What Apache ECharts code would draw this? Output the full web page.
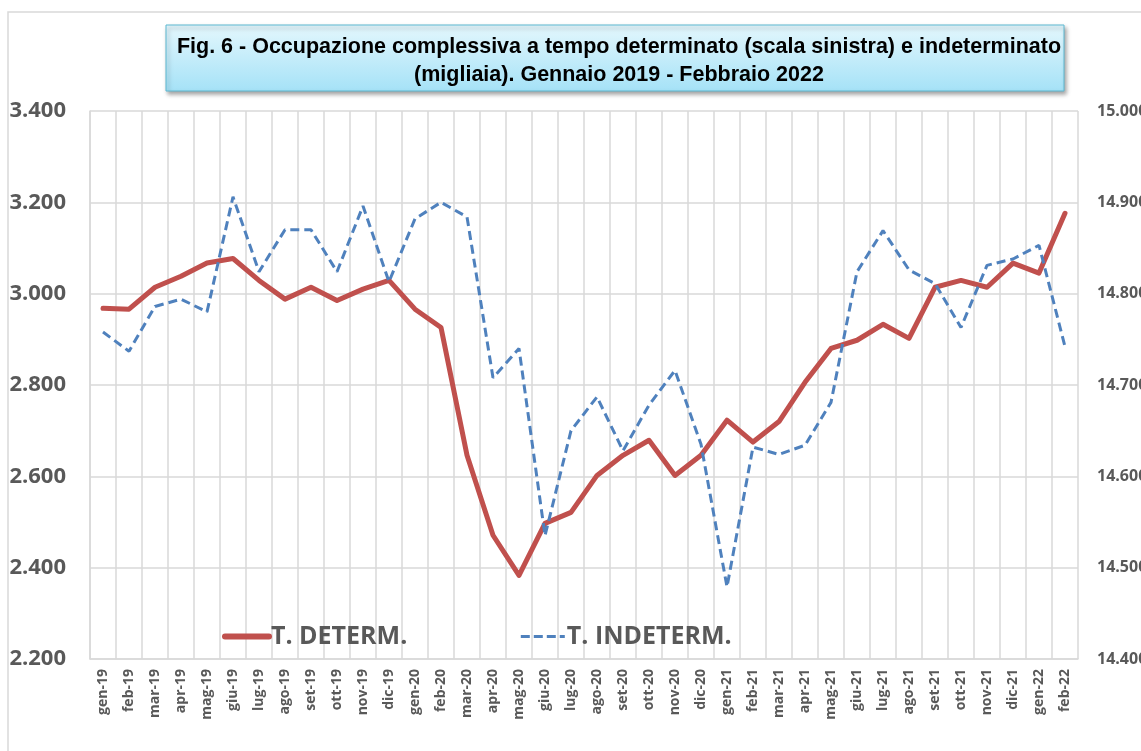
<!DOCTYPE html>
<html>
<head>
<meta charset="utf-8">
<script src="https://cdn.jsdelivr.net/npm/echarts@6/dist/echarts.min.js"></script>
<style>
  html, body { margin: 0; padding: 0; background: #fff; }
  #chart { width: 1141px; height: 751px; }
</style>
</head>
<body>
<div id="chart"></div>
<script>
// mesi gen-19 .. feb-22
const months = [
  'gen-19', 'feb-19', 'mar-19', 'apr-19', 'mag-19', 'giu-19', 'lug-19', 'ago-19', 'set-19', 'ott-19', 'nov-19', 'dic-19',
  'gen-20', 'feb-20', 'mar-20', 'apr-20', 'mag-20', 'giu-20', 'lug-20', 'ago-20', 'set-20', 'ott-20', 'nov-20', 'dic-20',
  'gen-21', 'feb-21', 'mar-21', 'apr-21', 'mag-21', 'giu-21', 'lug-21', 'ago-21', 'set-21', 'ott-21', 'nov-21', 'dic-21',
  'gen-22', 'feb-22'
]
// tempo determinato (scala sinistra, migliaia)
const determ = [
  2968, 2966, 3014, 3038, 3067, 3077, 3029, 2988, 3014, 2985, 3010, 3029,
  2966, 2926, 2646, 2471, 2383, 2497, 2521, 2602, 2646, 2679, 2602, 2646,
  2723, 2675, 2720, 2806, 2880, 2898, 2933, 2902, 3014, 3029, 3014, 3067,
  3045, 3176
]
// tempo indeterminato (scala destra, migliaia)
const indeterm = [
  14758, 14737, 14786, 14794, 14780, 14906, 14824, 14870, 14870, 14824, 14896, 14813,
  14882, 14900, 14884, 14708, 14740, 14535, 14650, 14687, 14628, 14678, 14716, 14635,
  14479, 14632, 14624, 14634, 14681, 14824, 14869, 14826, 14811, 14763, 14831, 14838,
  14853, 14742
]
const seriesNames = ['T. DETERM.', 'T. INDETERM.']

// separatore migliaia "."
const fmt = v => String(v).replace(/\B(?=(\d{3})+(?!\d))/g, '.')

const chart = echarts.init(document.getElementById('chart'))

const option = {
  backgroundColor: '#fff',
  animation: false,
  graphic: [
    // cornice esterna
    {
      type: 'rect',
      shape: { x: 8, y: 12, width: 1140, height: 745 },
      style: { fill: 'none', stroke: '#d9d9d9', lineWidth: 1.5 },
      z: 0
    },
    // box del titolo
    {
      type: 'rect',
      shape: { x: 166, y: 25, width: 898, height: 66 },
      style: {
        fill: new echarts.graphic.LinearGradient(0, 0, 0, 1, [
          { offset: 0, color: '#e4f7fd' },
          { offset: 1, color: '#a5e2f7' }
        ]),
        stroke: '#5cb8d1',
        lineWidth: 1,
        shadowBlur: 4,
        shadowOffsetX: 2,
        shadowOffsetY: 3,
        shadowColor: 'rgba(0,0,0,0.35)'
      },
      z: 1
    }
  ],
  title: {
    text: 'Fig. 6 - Occupazione complessiva a tempo determinato (scala sinistra) e indeterminato\n(migliaia). Gennaio 2019 - Febbraio 2022',
    left: 614,
    top: 28,
    textAlign: 'center',
    z: 5,
    textStyle: {
      fontFamily: '"Liberation Sans", Arial, sans-serif',
      fontWeight: 'bold',
      fontSize: 21.5,
      lineHeight: 28,
      color: '#000'
    }
  },
  legend: {
    data: [
      { name: seriesNames[0], lineStyle: { width: 6, cap: 'round' } },
      { name: seriesNames[1], lineStyle: { width: 3, type: [9, 4] } }
    ],
    left: 222,
    top: 624,
    padding: 0,
    itemWidth: 44,
    itemHeight: 14,
    itemGap: 112,
    itemStyle: { opacity: 0 },
    textStyle: {
      fontFamily: '"Open Sans", sans-serif',
      fontWeight: 'bold',
      fontSize: 25,
      color: '#595959',
      padding: [0, 0, 0, -3]
    }
  },
  grid: {
    left: 90,
    right: 63,
    top: 111,
    bottom: 92,
    outerBoundsMode: 'none'
  },
  xAxis: {
    type: 'category',
    data: months,
    boundaryGap: true,
    axisLine: { show: true, lineStyle: { color: '#d9d9d9', width: 1.5 } },
    axisTick: { show: false },
    splitLine: { show: true, lineStyle: { color: '#d9d9d9', width: 1.5 } },
    axisLabel: {
      interval: 0,
      rotate: 90,
      margin: 10,
      fontFamily: '"Open Sans", sans-serif',
      fontWeight: 'bold',
      fontSize: 14,
      color: '#595959'
    }
  },
  yAxis: [
    {
      type: 'value',
      min: 2200,
      max: 3400,
      interval: 200,
      axisLine: { show: true, lineStyle: { color: '#d9d9d9', width: 1.5 } },
      axisTick: { show: false },
      splitLine: { lineStyle: { color: '#d9d9d9', width: 1.5 } },
      axisLabel: {
        margin: 24,
        formatter: fmt,
        fontFamily: '"Open Sans", sans-serif',
        fontWeight: 'bold',
        fontSize: 22,
        color: '#595959'
      }
    },
    {
      type: 'value',
      min: 14400,
      max: 15000,
      interval: 100,
      position: 'right',
      axisLine: { show: false },
      axisTick: { show: false },
      splitLine: { show: false },
      axisLabel: {
        margin: 19,
        formatter: fmt,
        fontFamily: '"Open Sans", sans-serif',
        fontWeight: 'bold',
        fontSize: 16,
        color: '#595959'
      }
    }
  ],
  series: [
    {
      name: seriesNames[0],
      type: 'line',
      yAxisIndex: 0,
      data: determ,
      symbol: 'none',
      z: 3,
      lineStyle: { color: '#c0504d', width: 5, join: 'round', cap: 'round' },
      itemStyle: { color: '#c0504d' }
    },
    {
      name: seriesNames[1],
      type: 'line',
      yAxisIndex: 1,
      data: indeterm,
      symbol: 'none',
      z: 4,
      lineStyle: { color: '#4f81bd', width: 3, type: [9, 5] },
      itemStyle: { color: '#4f81bd' }
    }
  ]
}

chart.setOption(option)
</script>
</body>
</html>
